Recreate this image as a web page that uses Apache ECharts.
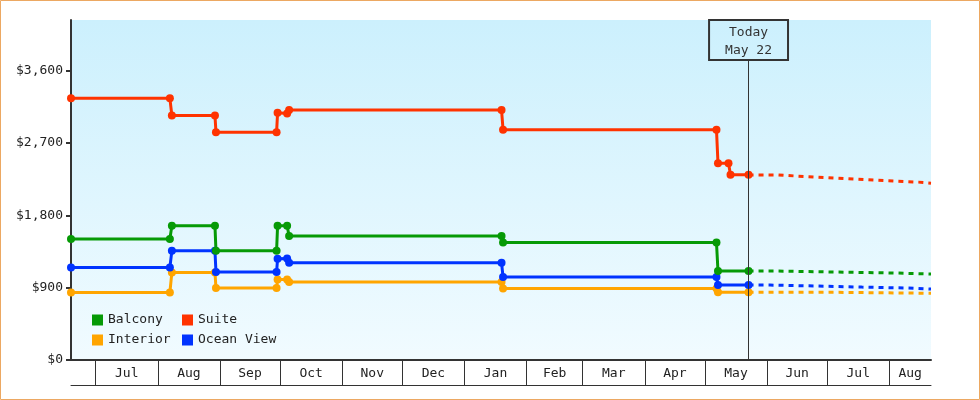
<!DOCTYPE html>
<html>
<head>
<meta charset="utf-8">
<script src="https://cdn.jsdelivr.net/npm/echarts@6/dist/echarts.min.js"></script>
<style>
html,body{margin:0;padding:0;background:#fff;}
#chart{width:980px;height:400px;}
</style>
</head>
<body>
<div id="chart"></div>
<script>
// ---------- data ----------
const xStart = '2022-06-18 16:00';
const xEnd = '2023-08-21 19:00';
const today = '2023-05-22 18:00';
const todayText = ['Today', 'May 22'];

const monthStarts = ['2022-07-01','2022-08-01','2022-09-01','2022-10-01','2022-11-01','2022-12-01',
  '2023-01-01','2023-02-01','2023-03-01','2023-04-01','2023-05-01','2023-06-01','2023-07-01','2023-08-01'];
const monthNames = ['Jul','Aug','Sep','Oct','Nov','Dec','Jan','Feb','Mar','Apr','May','Jun','Jul','Aug'];
const priceTicks = [0, 900, 1800, 2700, 3600];
const priceMax = 4230;

const seriesNames = ['Balcony', 'Suite', 'Interior', 'Ocean View'];

const balconyHistory = [
  ['2022-06-18 16:00',1505],['2022-08-07',1505],['2022-08-08',1670],['2022-08-29 12:00',1670],
  ['2022-08-30',1358],['2022-09-29 06:00',1358],['2022-09-29 18:00',1670],['2022-10-04 12:00',1670],
  ['2022-10-05 12:00',1542],['2023-01-19 12:00',1542],['2023-01-20 06:00',1462],['2023-05-06 18:00',1462],
  ['2023-05-07 12:00',1106],['2023-05-22 18:00',1106]
];
const balconyForecast = [
  ['2023-05-22 18:00',1106],['2023-06-06 12:00',1094],['2023-07-06 12:00',1081],['2023-08-05 12:00',1069],['2023-08-21 19:00',1069]
];

const suiteHistory = [
  ['2022-06-18 16:00',3255],['2022-08-07',3255],['2022-08-08',3042],['2022-08-29 12:00',3042],
  ['2022-08-30',2835],['2022-09-29 06:00',2835],['2022-09-29 18:00',3075],['2022-10-04 12:00',3068],
  ['2022-10-05 12:00',3110],['2023-01-19 12:00',3110],['2023-01-20 06:00',2866],['2023-05-06 18:00',2866],
  ['2023-05-07 12:00',2449],['2023-05-12 18:00',2449],['2023-05-13 18:00',2305],['2023-05-22 18:00',2305]
];
const suiteForecast = [
  ['2023-05-22 18:00',2303],['2023-06-06 12:00',2287],['2023-06-16 12:00',2275],['2023-06-26 12:00',2262],
  ['2023-07-06 12:00',2250],['2023-07-16 12:00',2237],['2023-07-26 12:00',2225],['2023-08-05 12:00',2213],
  ['2023-08-15 12:00',2200],['2023-08-21 19:00',2200]
];

const interiorHistory = [
  ['2022-06-18 16:00',840],['2022-08-07',840],['2022-08-08',1089],['2022-08-29 12:00',1089],
  ['2022-08-30',895],['2022-09-29 06:00',895],['2022-09-29 18:00',1000],['2022-10-04 12:00',1000],
  ['2022-10-05 12:00',970],['2023-01-19 12:00',970],['2023-01-20 06:00',890],['2023-05-06 18:00',890],
  ['2023-05-07 12:00',842],['2023-05-22 18:00',842]
];
const interiorForecast = [
  ['2023-05-22 18:00',842],['2023-07-06 12:00',830],['2023-08-21 19:00',830]
];

const oceanHistory = [
  ['2022-06-18 16:00',1151],['2022-08-07',1151],['2022-08-08',1358],['2022-08-29 12:00',1358],
  ['2022-08-30',1094],['2022-09-29 06:00',1094],['2022-09-29 18:00',1259],['2022-10-04 12:00',1262],
  ['2022-10-05 12:00',1210],['2023-01-19 12:00',1210],['2023-01-20 06:00',1032],['2023-05-06 18:00',1032],
  ['2023-05-07 12:00',932],['2023-05-22 18:00',932]
];
const oceanForecast = [
  ['2023-05-22 18:00',932],['2023-06-02 12:00',920],['2023-06-26 12:00',907],['2023-07-18 06:00',895],
  ['2023-08-10 12:00',883],['2023-08-21 19:00',883]
];

// ---------- style ----------
const colors = { 'Balcony':'#069a06', 'Suite':'#ff3300', 'Interior':'#ffa500', 'Ocean View':'#0033ff' };
const FONT = "'DejaVu Sans Mono', monospace";
const todayLineTop = 3733;

const parse = s => +echarts.time.parse(s);
const startT = parse(xStart);
const endT = parse(xEnd);
const labelValues = monthStarts.map((m, i) => {
  const a = parse(m);
  const b = i + 1 < monthStarts.length ? Math.min(parse(monthStarts[i + 1]), endT) : endT;
  return (a + b) / 2;
});

function historySeries(name, data) {
  return {
    type: 'line', name, data,
    symbol: 'circle', symbolSize: 8, showSymbol: true,
    lineStyle: { width: 3, color: colors[name] },
    itemStyle: { color: colors[name] },
    emphasis: { disabled: true }, animation: false, z: 3
  };
}
function forecastSeries(name, data) {
  return {
    type: 'line', name, data, step: 'end',
    symbol: 'none', showSymbol: false,
    lineStyle: { width: 3, color: colors[name], type: [5, 5] },
    itemStyle: { color: colors[name] },
    emphasis: { disabled: true }, animation: false, z: 2
  };
}

const legendBase = {
  orient: 'vertical', icon: 'rect', itemWidth: 11, itemHeight: 11, itemGap: 0, padding: 0,
  textStyle: { fontFamily: FONT, fontSize: 13, color: '#222', lineHeight: 20 }, selectedMode: false
};

const chart = echarts.init(document.getElementById('chart'), null, { renderer: 'canvas' });
chart.setOption({
  animation: false,
  textStyle: { fontFamily: FONT },
  grid: {
    left: 71, right: 49, top: 20, bottom: 40, show: true, borderWidth: 0,
    backgroundColor: new echarts.graphic.LinearGradient(0, 0, 0, 1, [
      { offset: 0, color: '#ccf0fd' }, { offset: 1, color: '#f1fbff' }
    ])
  },
  graphic: [{
    type: 'rect', silent: true, z: 100,
    shape: { x: 0.5, y: 0.5, width: 979, height: 399 },
    style: { fill: 'none', stroke: '#eca862', lineWidth: 1 }
  }],
  legend: [
    Object.assign({}, legendBase, { data: ['Balcony', 'Interior'], left: 92, top: 310 }),
    Object.assign({}, legendBase, { data: ['Suite', 'Ocean View'], left: 182, top: 310 })
  ],
  xAxis: [
    {
      type: 'time', min: startT, max: endT,
      axisLine: { show: true, lineStyle: { color: '#333', width: 2 } },
      axisTick: { show: true, customValues: monthStarts.map(parse), length: 25, lineStyle: { color: '#333', width: 1 } },
      axisLabel: { show: false },
      splitLine: { show: false }
    },
    {
      type: 'value', min: 0, max: 1, position: 'bottom', offset: 25,
      axisLine: { show: true, lineStyle: { color: '#333', width: 1 } },
      axisTick: { show: false }, axisLabel: { show: false }, splitLine: { show: false }
    },
    {
      type: 'value', min: startT, max: endT, position: 'bottom', offset: 0,
      axisLine: { show: false }, axisTick: { show: false }, splitLine: { show: false },
      axisLabel: {
        show: true, customValues: labelValues, color: '#222', fontSize: 13, fontFamily: FONT, margin: 7,
        hideOverlap: false,
        formatter: v => {
          let idx = 0, best = Infinity;
          labelValues.forEach((lv, i) => { const d = Math.abs(lv - v); if (d < best) { best = d; idx = i; } });
          return monthNames[idx];
        }
      }
    }
  ],
  yAxis: {
    type: 'value', min: 0, max: priceMax,
    axisLine: { show: true, lineStyle: { color: '#333', width: 2 } },
    axisTick: { show: true, customValues: priceTicks, length: 5, lineStyle: { color: '#333', width: 2 } },
    axisLabel: {
      customValues: priceTicks, color: '#222', fontSize: 13, fontFamily: FONT, margin: 8,
      formatter: v => '$' + Number(v).toLocaleString('en-US')
    },
    splitLine: { show: false }
  },
  series: [
    {
      type: 'line', name: 'today', data: [], z: 1, silent: true,
      markLine: {
        silent: true, symbol: ['none', 'none'], animation: false,
        lineStyle: { color: '#333', width: 1, type: 'solid' },
        label: {
          show: true, position: 'end', distance: 0,
          formatter: todayText.join('\n'),
          fontFamily: FONT, fontSize: 13, color: '#333', lineHeight: 18,
          borderColor: '#333', borderWidth: 1, padding: [4, 16, 0, 16], backgroundColor: 'transparent'
        },
        emphasis: { disabled: true },
        data: [[{ coord: [today, 0] }, { coord: [today, todayLineTop] }]]
      }
    },
    forecastSeries('Interior', interiorForecast),
    forecastSeries('Ocean View', oceanForecast),
    forecastSeries('Balcony', balconyForecast),
    forecastSeries('Suite', suiteForecast),
    historySeries('Interior', interiorHistory),
    historySeries('Ocean View', oceanHistory),
    historySeries('Balcony', balconyHistory),
    historySeries('Suite', suiteHistory)
  ]
});
</script>
</body>
</html>
